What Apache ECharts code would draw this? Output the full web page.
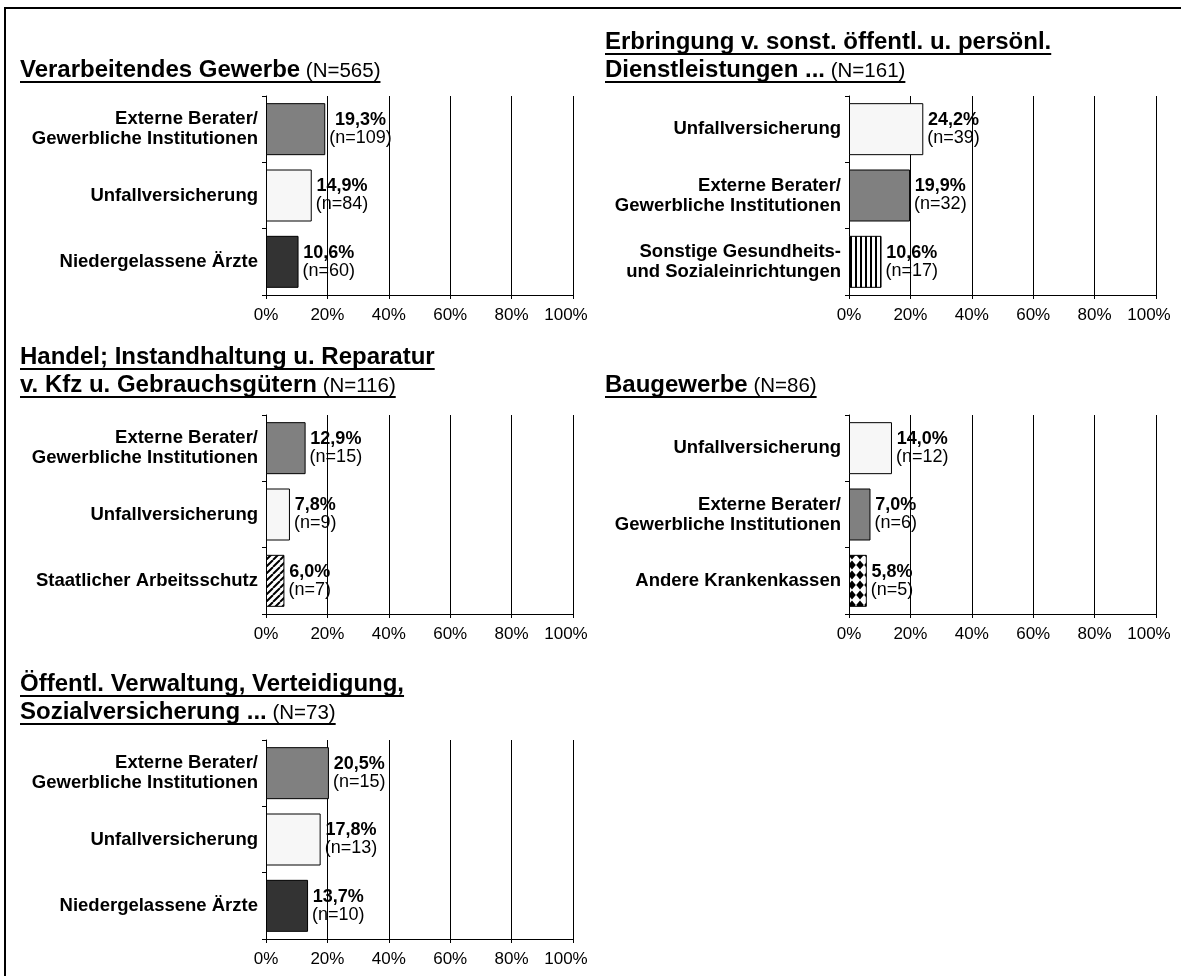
<!DOCTYPE html>
<html>
<head>
<meta charset="utf-8">
<script src="https://cdn.jsdelivr.net/npm/echarts@6/dist/echarts.min.js"></script>
<style>
html,body{margin:0;padding:0;background:#fff;}
#chart{width:1181px;height:976px;}
</style>
</head>
<body>
<div id="chart"></div>
<script>
// ---------------- DATA ----------------
const p1TitleLines = ['Verarbeitendes Gewerbe'];
const p1N = '(N=565)';
const p1Categories = ['Externe Berater/\nGewerbliche Institutionen', 'Unfallversicherung', 'Niedergelassene Ärzte'];
const p1Values = [19.3, 14.9, 10.6];
const p1Counts = [109, 84, 60];

const p2TitleLines = ['Erbringung v. sonst. öffentl. u. persönl.', 'Dienstleistungen ...'];
const p2N = '(N=161)';
const p2Categories = ['Unfallversicherung', 'Externe Berater/\nGewerbliche Institutionen', 'Sonstige Gesundheits-\nund Sozialeinrichtungen'];
const p2Values = [24.2, 19.9, 10.6];
const p2Counts = [39, 32, 17];

const p3TitleLines = ['Handel; Instandhaltung u. Reparatur', 'v. Kfz u. Gebrauchsgütern'];
const p3N = '(N=116)';
const p3Categories = ['Externe Berater/\nGewerbliche Institutionen', 'Unfallversicherung', 'Staatlicher Arbeitsschutz'];
const p3Values = [12.9, 7.8, 6.0];
const p3Counts = [15, 9, 7];

const p4TitleLines = ['Baugewerbe'];
const p4N = '(N=86)';
const p4Categories = ['Unfallversicherung', 'Externe Berater/\nGewerbliche Institutionen', 'Andere Krankenkassen'];
const p4Values = [14.0, 7.0, 5.8];
const p4Counts = [12, 6, 5];

const p5TitleLines = ['Öffentl. Verwaltung, Verteidigung,', 'Sozialversicherung ...'];
const p5N = '(N=73)';
const p5Categories = ['Externe Berater/\nGewerbliche Institutionen', 'Unfallversicherung', 'Niedergelassene Ärzte'];
const p5Values = [20.5, 17.8, 13.7];
const p5Counts = [15, 13, 10];

const xTickMin = 0, xTickMax = 100, xTickStep = 20;

// ---------------- STYLE ----------------
const FONT = '"Liberation Sans", Arial, Helvetica, sans-serif';

function makeTile(w, h, draw) {
  const c = document.createElement('canvas');
  c.width = w; c.height = h;
  const g = c.getContext('2d');
  g.fillStyle = '#fff'; g.fillRect(0, 0, w, h);
  g.fillStyle = '#000'; g.strokeStyle = '#000';
  draw(g, w, h);
  return c;
}
const vStripeTile = makeTile(5, 10, g => { g.fillRect(0, 0, 2, 10); });
const diagTile = makeTile(7, 7, g => {
  g.lineWidth = 2; g.beginPath();
  for (let k = -7; k <= 7; k += 7) { g.moveTo(k, 7); g.lineTo(k + 7, 0); }
  g.stroke();
});
const diamondTile = makeTile(8, 10, g => {
  g.beginPath(); g.moveTo(4, 0.6); g.lineTo(7.8, 5); g.lineTo(4, 9.4); g.lineTo(0.2, 5); g.closePath(); g.fill();
});

function fillFor(cat) {
  if (cat.startsWith('Externe')) return '#808080';
  if (cat.startsWith('Unfall')) return '#f7f7f7';
  if (cat.startsWith('Niedergelassene')) return '#333333';
  if (cat.startsWith('Sonstige')) return { image: vStripeTile, repeat: 'repeat' };
  if (cat.startsWith('Staatlicher')) return { image: diagTile, repeat: 'repeat' };
  if (cat.startsWith('Andere')) return { image: diamondTile, repeat: 'repeat' };
  return '#999';
}

const GRID_W = 307, GRID_H = 199;
const panels = [
  { lines: p1TitleLines, n: p1N, cats: p1Categories, vals: p1Values, counts: p1Counts, left: 266, top: 96, tx: 20, ty: 70 },
  { lines: p2TitleLines, n: p2N, cats: p2Categories, vals: p2Values, counts: p2Counts, left: 849, top: 96, tx: 605, ty: 42 },
  { lines: p3TitleLines, n: p3N, cats: p3Categories, vals: p3Values, counts: p3Counts, left: 266, top: 415, tx: 20, ty: 357 },
  { lines: p4TitleLines, n: p4N, cats: p4Categories, vals: p4Values, counts: p4Counts, left: 849, top: 415, tx: 605, ty: 385 },
  { lines: p5TitleLines, n: p5N, cats: p5Categories, vals: p5Values, counts: p5Counts, left: 266, top: 740, tx: 20, ty: 684 }
];

const measureCtx = document.createElement('canvas').getContext('2d');
function tw(text, font) { measureCtx.font = font; return measureCtx.measureText(text).width; }

const TITLE_BOLD = 'bold 24px ' + FONT;
const TITLE_N = '20.5px ' + FONT;
const LINE_GAP = 28;

function fmtPct(v) { return v.toFixed(1).replace('.', ',') + '%'; }

const grids = [], xAxes = [], yAxes = [], series = [], graphics = [];

graphics.push({ type: 'rect', shape: { x: 5, y: 8, width: 1400, height: 1200 }, style: { fill: null, stroke: '#000', lineWidth: 2 }, silent: true });

panels.forEach((p, i) => {
  grids.push({ left: p.left, top: p.top, width: GRID_W, height: GRID_H, containLabel: false });
  xAxes.push({
    gridIndex: i, type: 'value', min: xTickMin, max: xTickMax, interval: xTickStep,
    axisLine: { show: true, lineStyle: { color: '#000', width: 1 } },
    axisTick: { show: true, length: 4, lineStyle: { color: '#000' } },
    splitLine: { show: true, lineStyle: { color: '#000', width: 1 } },
    axisLabel: {
      margin: 12, color: '#000', fontFamily: FONT, fontSize: 17,
      formatter: v => v === 100 ? '{e|100%}' : v + '%',
      rich: { e: { fontFamily: FONT, fontSize: 17, color: '#000', padding: [0, 14, 0, 0] } }
    }
  });
  yAxes.push({
    gridIndex: i, type: 'category', inverse: true, data: p.cats,
    axisLine: { show: true, lineStyle: { color: '#000', width: 1 } },
    axisTick: { show: true, length: 4, lineStyle: { color: '#000' } },
    splitLine: { show: false },
    axisLabel: { margin: 8, color: '#000', fontFamily: FONT, fontSize: 18.5, fontWeight: 'bold', lineHeight: 20, align: 'right' }
  });
  const counts = p.counts;
  series.push({
    type: 'bar', xAxisIndex: i, yAxisIndex: i, barWidth: 52,
    data: p.vals.map((v, k) => ({ value: v, itemStyle: { color: fillFor(p.cats[k]) } })),
    itemStyle: { borderColor: '#000', borderWidth: 1 },
    label: {
      show: true, position: 'right', distance: 4,
      formatter: q => '{v|' + fmtPct(q.value) + '}\n{n|(n=' + counts[q.dataIndex] + ')}',
      rich: {
        v: { fontFamily: FONT, fontWeight: 'bold', fontSize: 18, lineHeight: 18, color: '#000', align: 'center' },
        n: { fontFamily: FONT, fontSize: 18, lineHeight: 18, color: '#000', align: 'center' }
      }
    },
    emphasis: { disabled: true }
  });

  // title
  p.lines.forEach((ln, li) => {
    const y = p.ty + li * LINE_GAP;
    const wb = tw(ln, TITLE_BOLD);
    graphics.push({ type: 'text', x: p.tx, y: y, silent: true,
      style: { text: ln, font: TITLE_BOLD, fill: '#000', textAlign: 'left', textVerticalAlign: 'middle' } });
    let total = wb;
    if (li === p.lines.length - 1) {
      const sp = tw(' ', TITLE_N);
      graphics.push({ type: 'text', x: p.tx + wb + sp, y: y + 1.5, silent: true,
        style: { text: p.n, font: TITLE_N, fill: '#000', textAlign: 'left', textVerticalAlign: 'middle' } });
      total = wb + sp + tw(p.n, TITLE_N);
    }
    graphics.push({ type: 'line', silent: true, shape: { x1: p.tx, y1: y + 12, x2: p.tx + total, y2: y + 12 },
      style: { stroke: '#000', lineWidth: 2 } });
  });
});

const chart = echarts.init(document.getElementById('chart'), null, { renderer: 'canvas' });
chart.setOption({
  animation: false,
  backgroundColor: '#fff',
  textStyle: { fontFamily: FONT },
  grid: grids, xAxis: xAxes, yAxis: yAxes, series: series,
  graphic: graphics
});
</script>
</body>
</html>
